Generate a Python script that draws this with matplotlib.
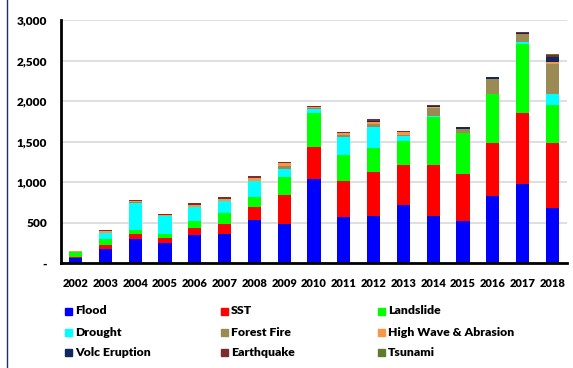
import matplotlib
matplotlib.use("Agg")
import matplotlib.pyplot as plt
from matplotlib.patches import Rectangle
from matplotlib.lines import Line2D
from matplotlib.ticker import FuncFormatter
import numpy as np

plt.rcParams['font.family'] = ['Lato', 'DejaVu Sans']
plt.rcParams['font.weight'] = 'heavy'

# disaster events per year, by type
years = ['2002', '2003', '2004', '2005', '2006', '2007', '2008', '2009', '2010',
         '2011', '2012', '2013', '2014', '2015', '2016', '2017', '2018']
flood       = [62, 177, 296, 251, 341, 362, 534, 485, 1036, 571, 580, 711, 584, 522, 822, 978, 674]
sst         = [12, 49, 61, 53, 86, 123, 161, 349, 398, 436, 542, 501, 620, 571, 662, 876, 810]
landslide   = [62, 74, 54, 53, 87, 127, 115, 226, 420, 329, 292, 296, 604, 506, 604, 854, 464]
drought     = [5, 70, 330, 218, 176, 152, 197, 103, 49, 218, 263, 62, 10, 0, 0, 25, 140]
forest_fire = [0, 5, 8, 3, 5, 4, 10, 29, 10, 28, 41, 10, 93, 53, 181, 91, 366]
high_wave   = [3, 20, 15, 18, 16, 25, 31, 41, 12, 21, 25, 33, 21, 8, 8, 6, 33]
volc        = [0, 0, 0, 0, 0, 0, 5, 0, 5, 3, 16, 10, 6, 15, 16, 4, 53]
earthquake  = [6, 8, 16, 4, 25, 22, 22, 15, 12, 9, 14, 12, 10, 10, 9, 14, 29]
tsunami     = [0, 0, 0, 0, 4, 3, 3, 0, 0, 0, 0, 0, 0, 0, 0, 0, 8]

series = [
    ('Flood', flood, '#0000ff'),
    ('SST', sst, '#ff0000'),
    ('Landslide', landslide, '#00ff00'),
    ('Drought', drought, '#00ffff'),
    ('Forest Fire', forest_fire, '#9a8b55'),
    ('High Wave & Abrasion', high_wave, '#f79646'),
    ('Volc Eruption', volc, '#10285e'),
    ('Earthquake', earthquake, '#7b2c2c'),
    ('Tsunami', tsunami, '#5d7a2e'),
]

fig = plt.figure(figsize=(5.73, 3.68), dpi=100)
ax = fig.add_axes([61/573, 1 - 263/368, 506/573, 243/368])

x = np.arange(len(years))
bottom = np.zeros(len(years))
for name, vals, col in series:
    ax.bar(x, vals, width=0.44, bottom=bottom, color=col, zorder=3)
    bottom += np.array(vals)

ax.set_xlim(-0.49, 16.49)
ax.set_ylim(0, 3000)
ax.set_yticks(range(0, 3001, 500))
ax.yaxis.set_major_formatter(FuncFormatter(lambda v, p: '-' if v == 0 else f'{int(v):,}'))
ax.set_xticks(x)
ax.set_xticklabels(years)
ax.tick_params(axis='x', length=0, labelsize=8, pad=11)
ax.tick_params(axis='y', length=0, labelsize=8.6, pad=10)
ax.grid(axis='y', color='#d9d9d9', linewidth=1.2, zorder=0)
for s in ['top', 'right']:
    ax.spines[s].set_visible(False)
for s in ['left', 'bottom']:
    ax.spines[s].set_linewidth(2)
    ax.spines[s].set_color('black')
    ax.spines[s].set_zorder(4)

# legend laid out as a 3x3 grid
col_x = [65, 221, 378]
row_y = [311, 332, 352]
for i, (name, vals, col) in enumerate(series):
    r, c = divmod(i, 3)
    px, py = col_x[c], row_y[r]
    fig.add_artist(Rectangle((px / 573, 1 - (py + 3.5) / 368), 7 / 573, 7 / 368,
                             transform=fig.transFigure, color=col))
    fig.text((px + 10) / 573, 1 - py / 368, name, fontsize=8.8, fontweight='heavy',
             va='center', ha='left')

# frame edge on the left
fig.add_artist(Line2D([7 / 573, 7 / 573], [0, 1], transform=fig.transFigure,
                      color='#1f2d6b', linewidth=1))

fig.savefig('out.png', dpi=100)
